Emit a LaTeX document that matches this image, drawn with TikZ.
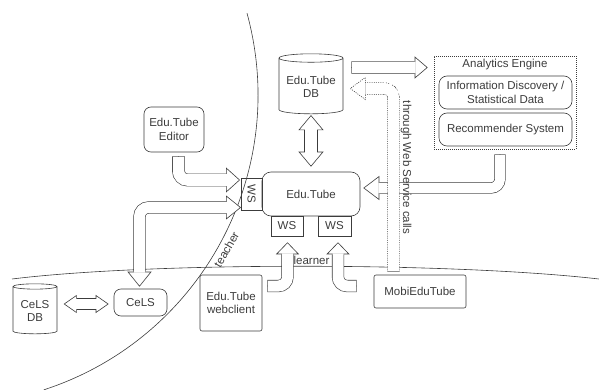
\documentclass[tikz,border=0pt]{standalone}
\usepackage{fontspec}
\setmainfont{Liberation Sans}
\usepackage{tikz}
\usetikzlibrary{shapes,arrows.meta,calc}
\definecolor{ink}{HTML}{3C3C3C}
\tikzstyle{box} = [rectangle, rounded corners=7pt, draw=ink, align=center]
\tikzstyle{plain} = [rectangle, rounded corners=2pt, draw=ink, align=center]
\tikzstyle{ws} = [rectangle, draw=ink, minimum height=20pt, inner sep=0pt]
\tikzstyle{db} = [cylinder, shape border rotate=90, aspect=0.15, draw=ink, align=center]
\tikzstyle{dotshaft} = [draw=ink, line width=12.2pt, dash pattern=on 1pt off 1.2pt, rounded corners=9pt, postaction={draw=white, solid, line width=11pt, shorten <=0.6pt}]
\tikzset{
  blk/.style n args={3}{draw=ink, rounded corners=9pt, -{Triangle[length=#2, width=#3, fill=white]},
    postaction={draw=ink, arrows=-, line width=#1+1.2pt, shorten >=#2},
    postaction={draw=white, arrows=-, line width=#1, shorten >=#2-1pt, shorten <=0.6pt}},
  blktwo/.style n args={3}{draw=ink, rounded corners=9pt, {Triangle[length=#2, width=#3, fill=white]}-{Triangle[length=#2, width=#3, fill=white]},
    postaction={draw=ink, arrows=-, line width=#1+1.2pt, shorten >=#2, shorten <=#2},
    postaction={draw=white, arrows=-, line width=#1, shorten >=#2-1pt, shorten <=#2-1pt}}
}

\begin{document}
\begin{tikzpicture}[x=1pt, y=-1pt, font=\fontsize{11.5}{13.3}\selectfont, text=ink, line width=0.6pt]
        \useasboundingbox (0,0) rectangle (599,390);

        \draw[ink] (-52,95) ++(-15.3:310) arc[start angle=-15.3, end angle=72, radius=310];
        \draw[ink] (12,279) .. controls (150,262) and (450,262) .. (599,279);

        \node (dbET) [db, minimum width=64pt, minimum height=60pt] at (311,87) {Edu.Tube\\DB};
        \node (edutube) [box, rounded corners=9pt, minimum width=98pt, minimum height=44pt] at (311,194) {Edu.Tube};
        \node (wsL) [ws, rotate=-90, minimum width=32pt, minimum height=21pt] at (251.5,194) {WS};
        \node (wsB1) [ws, minimum width=32pt] at (287,226) {WS};
        \node (wsB2) [ws, minimum width=33pt] at (334.5,226) {WS};
        \node (editor) [box, minimum width=60pt, minimum height=45pt] at (174,129.5) {Edu.Tube\\Editor};
        \node (cels) [box, minimum width=53pt, minimum height=27pt] at (140.5,302.5) {CeLS};
        \node (dbCeLS) [db, minimum width=44pt, minimum height=50pt] at (35,311) {CeLS\\DB};
        \node (web) [plain, minimum width=62pt, minimum height=56pt] at (231,303) {Edu.Tube\\webclient};
        \node (mobi) [plain, minimum width=92pt, minimum height=33pt] at (420,291.5) {MobiEduTube};
        \node (analytics) [rectangle, draw=ink, dash pattern=on 1pt off 1pt, minimum width=142pt, minimum height=93pt] at (505,102.5) {};
        \node (title) [anchor=north, inner sep=3pt] at (analytics.north) {Analytics Engine};
        \node (info) [box, rounded corners=8pt, minimum width=133pt, minimum height=33pt] at (505.5,92.5) {Information Discovery /\\Statistical Data};
        \node (recom) [box, rounded corners=8pt, minimum width=133pt, minimum height=33pt] at (505.5,129.5) {Recommender System};

        \draw[blktwo={12.5pt}{15pt}{25pt}] ($(dbET.south)+(0,1)$) -- ($(edutube.north)+(0,-5)$);
        \draw[blktwo={10pt}{13pt}{18pt}] ($(cels.west)+(-50,1.5)$) -- ($(cels.west)+(-5,1.5)$);
        \draw[blk={11pt}{13pt}{22pt}] ($(dbET.east)+(8,-19.5)$) -- ($(analytics.west)+(-6,-35)$);
        \draw[blk={11.5pt}{14pt}{25pt}] ($(editor.south)+(4.5,4)$) |- ($(wsL.center)+(-11.5,-14)$);
        \draw[blktwo={11pt}{15pt}{24pt}] ($(wsL.center)+(-10.5,13.5)$) -| ($(cels.north)+(-1,-2)$);
        \draw[blk={10pt}{16pt}{24pt}] ($(analytics.south)+(-5,5)$) |- ($(edutube.east)+(3,-6)$);
        \draw[blk={11pt}{12pt}{23pt}] ($(web.east)+(5,-17)$) -| ($(wsB1.south)+(0.5,6)$);
        \draw[blk={11pt}{12pt}{23pt}] ($(mobi.west)+(-17,-5.5)$) -| ($(wsB2.south)+(3.5,6)$);

        \coordinate (dotTip) at ($(dbET.east)+(7,1.5)$);
        \draw[dotshaft] ($(mobi.north)+(-26.5,-3)$) |- ($(dotTip)+(15,0)$);
        \draw[draw=ink, dash pattern=on 1pt off 1.2pt] ($(dotTip)+(15,-5.5)$) -- ($(dotTip)+(15,-11)$) -- (dotTip) -- ($(dotTip)+(15,11)$) -- ($(dotTip)+(15,5.5)$);

        \node (teacher) [rotate=60, inner sep=1pt] at (226.5,249.5) {teacher};
        \node (learner) [inner sep=1pt] at (311.5,260) {learner};
        \node (wscalls) [rotate=-90, inner sep=1pt] at (406,167.5) {through Web Service calls};
    \end{tikzpicture}
\end{document}
